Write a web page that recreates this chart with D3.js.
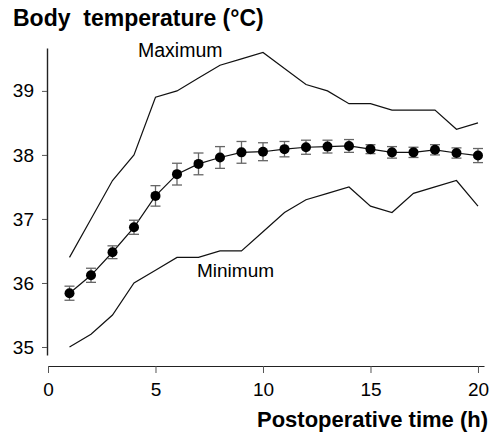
<!DOCTYPE html>
<html>
<head>
<meta charset="utf-8">
<script src="https://cdn.jsdelivr.net/npm/d3@7"></script>
<style>
  body { margin: 0; background: #fff; }
  text { font-family: "Liberation Sans", Arial, sans-serif; }
</style>
</head>
<body>
<svg id="chart" width="495" height="432"></svg>
<script>
// hours after surgery
var hours = d3.range(1, 21);
var meanTemp = [35.84, 36.12, 36.48, 36.87, 37.36, 37.70, 37.86, 37.96, 38.04, 38.05,
                38.09, 38.12, 38.13, 38.14, 38.09, 38.04, 38.04, 38.08, 38.03, 37.99];
var errTemp = [0.11, 0.11, 0.10, 0.11, 0.16, 0.17, 0.17, 0.17, 0.17, 0.14,
               0.12, 0.11, 0.10, 0.10, 0.07, 0.09, 0.08, 0.08, 0.08, 0.11];
var maxTemp = [36.4, 37.0, 37.6, 38.0, 38.9, 39.0, 39.2, 39.4, 39.5, 39.6,
               39.35, 39.1, 39.0, 38.8, 38.8, 38.7, 38.7, 38.7, 38.4, 38.5];
var minTemp = [35.0, 35.2, 35.5, 36.0, 36.2, 36.4, 36.4, 36.5, 36.5, 36.8,
               37.1, 37.3, 37.4, 37.5, 37.2, 37.1, 37.4, 37.5, 37.6, 37.2];
var xTicks = [0, 5, 10, 15, 20];
var yTicks = [35, 36, 37, 38, 39];

var svg = d3.select('#chart');

var x = d3.scaleLinear().domain([0, 20.28]).range([48, 484]);
var y = d3.scaleLinear().domain([34.875, 39.67]).range([355, 48]);

// axes
var xAxis = svg.append('g')
    .attr('transform', 'translate(0,366)')
    .call(d3.axisBottom(x).tickValues(xTicks).tickFormat(d3.format('d'))
        .tickSize(7).tickSizeOuter(0).tickPadding(10));
var yAxis = svg.append('g')
    .attr('transform', 'translate(47,0)')
    .call(d3.axisLeft(y).tickValues(yTicks).tickFormat(d3.format('d'))
        .tickSize(5).tickSizeOuter(0).tickPadding(8));

[xAxis, yAxis].forEach(function(g) {
    g.selectAll('text')
        .attr('fill', '#000')
        .style('font-size', '19px')
        .style('font-family', '"Liberation Sans", Arial, sans-serif');
    g.select('.domain').attr('stroke', '#222').attr('stroke-width', 1.2);
    g.selectAll('.tick line').attr('stroke', '#555');
});
yAxis.select('.domain').attr('stroke-width', 1.4);

// range lines
var line = d3.line()
    .x(function(d) { return x(d.t); })
    .y(function(d) { return y(d.v); });

function series(vals) {
    return hours.map(function(t, i) { return { t: t, v: vals[i] }; });
}

svg.selectAll('path.range')
    .data([maxTemp, minTemp])
    .enter()
    .append('path')
    .attr('class', 'range')
    .attr('d', function(d) { return line(series(d)); })
    .attr('fill', 'none')
    .attr('stroke', '#111')
    .attr('stroke-width', 1.2);

// mean line with error bars
var meanData = hours.map(function(t, i) {
    return { t: t, v: meanTemp[i], e: errTemp[i] };
});

svg.append('path')
    .attr('d', line(meanData))
    .attr('fill', 'none')
    .attr('stroke', '#111')
    .attr('stroke-width', 1.2);

var bars = svg.selectAll('g.err')
    .data(meanData)
    .enter()
    .append('g')
    .attr('class', 'err')
    .attr('stroke', '#666')
    .attr('stroke-width', 1.3);

bars.append('line')
    .attr('x1', function(d) { return x(d.t); })
    .attr('x2', function(d) { return x(d.t); })
    .attr('y1', function(d) { return y(d.v + d.e); })
    .attr('y2', function(d) { return y(d.v - d.e); });
[1, -1].forEach(function(s) {
    bars.append('line')
        .attr('x1', function(d) { return x(d.t) - 5; })
        .attr('x2', function(d) { return x(d.t) + 5; })
        .attr('y1', function(d) { return y(d.v + s * d.e); })
        .attr('y2', function(d) { return y(d.v + s * d.e); });
});

svg.selectAll('circle')
    .data(meanData)
    .enter()
    .append('circle')
    .attr('cx', function(d) { return x(d.t); })
    .attr('cy', function(d) { return y(d.v); })
    .attr('r', 5)
    .attr('fill', '#000');

// labels
svg.append('text')
    .attr('x', 13).attr('y', 26)
    .style('white-space', 'pre')
    .style('font-size', '23px').style('font-weight', 'bold')
    .text('Body  temperature (\u00b0C)');

svg.append('text')
    .attr('x', 488).attr('y', 427)
    .attr('text-anchor', 'end')
    .style('font-size', '22px').style('font-weight', 'bold')
    .text('Postoperative time (h)');

svg.append('text')
    .attr('x', 138).attr('y', 57)
    .style('font-size', '19.5px')
    .text('Maximum');

svg.append('text')
    .attr('x', 197).attr('y', 277)
    .style('font-size', '19px')
    .text('Minimum');
</script>
</body>
</html>
